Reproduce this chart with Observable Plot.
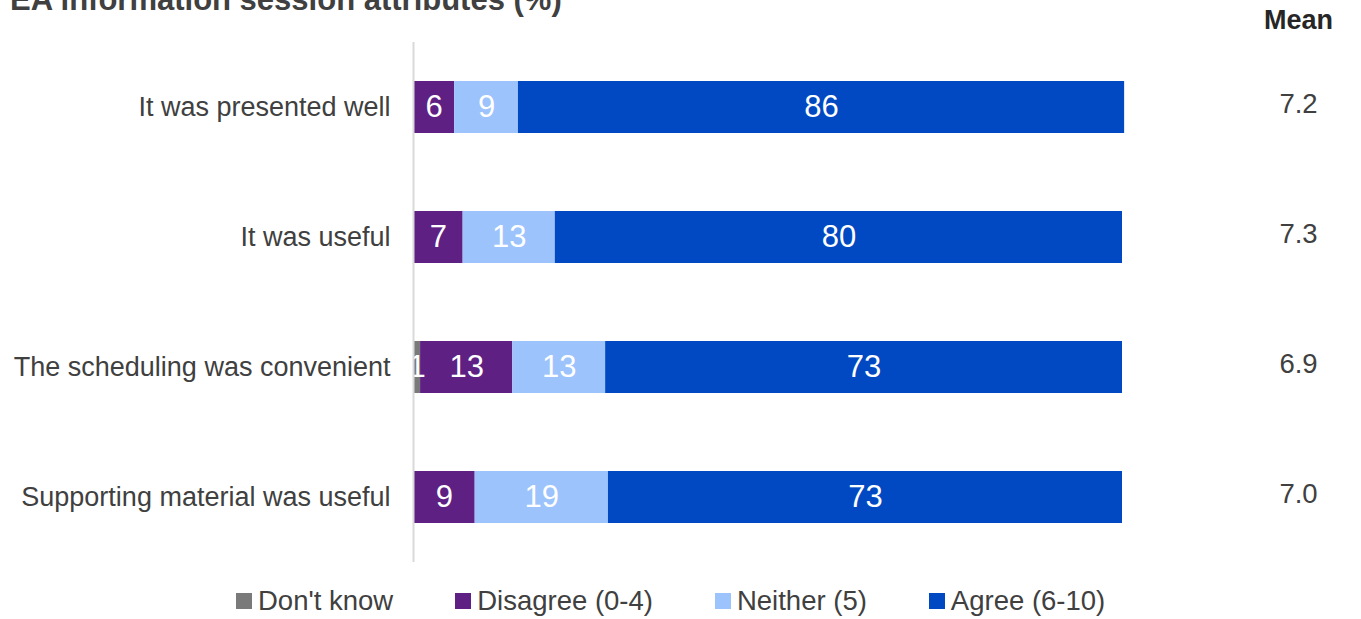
<!DOCTYPE html>
<html>
<head>
<meta charset="utf-8">
<script src="https://cdn.jsdelivr.net/npm/d3@7"></script>
<script src="https://cdn.jsdelivr.net/npm/@observablehq/plot@0.6"></script>
<style>
  html, body { margin: 0; padding: 0; background: #fff; overflow: hidden; }
  #wrap { position: relative; width: 1361px; height: 619px; font-family: "Liberation Sans", Arial, sans-serif; }
  #title { position: absolute; left: 10px; top: -16px; font-size: 31px; line-height: 31px; font-weight: bold; color: #404040; white-space: nowrap; }
  #legend { position: absolute; left: 236px; top: 585px; display: flex; align-items: center; font-size: 27.5px; color: #404040; white-space: nowrap; }
  .item { display: flex; align-items: center; margin-right: 62px; }
  .sw { width: 16px; height: 16px; margin-right: 6px; }
</style>
</head>
<body>
<div id="wrap">
  <div id="chart"></div>
  <div id="title">EA information session attributes (%)</div>
  <div id="legend"></div>
</div>
<script>
const categories = ["It was presented well", "It was useful", "The scheduling was convenient", "Supporting material was useful"];
const responses = ["Don't know", "Disagree (0-4)", "Neither (5)", "Agree (6-10)"];
const colors = ["#7a7a7a", "#5e2083", "#9dc3fd", "#0049c2"];
const dontKnow = [0, 0, 1, 0];
const disagree = [5.8, 7, 13, 8.7];
const neither = [9.0, 13, 13.1, 18.8];
const agree = [85.5, 80, 72.9, 72.5];
const means = [7.2, 7.3, 6.9, 7.0];

const series = [dontKnow, disagree, neither, agree];
const data = [];
categories.forEach((c, i) => {
  responses.forEach((r, j) => {
    const v = series[j][i];
    if (v > 0) data.push({cat: c, resp: r, value: v});
  });
});
const meanData = categories.map((c, i) => ({cat: c, mean: means[i]}));

const font = "Liberation Sans, Arial, sans-serif";
const plot = Plot.plot({
  width: 1361,
  height: 580,
  marginLeft: 413,
  marginRight: 239,
  marginTop: 42,
  marginBottom: 18,
  style: {fontFamily: font, fontSize: "27px", color: "#404040", background: "white"},
  x: {domain: [0, 100], axis: null},
  y: {domain: categories, paddingInner: 0.6, paddingOuter: 0.3, label: null},
  color: {domain: responses, range: colors},
  marks: [
    Plot.barX(data, {x: "value", y: "cat", fill: "resp", order: responses}),
    Plot.text(data, Plot.stackX({x: "value", y: "cat", z: "resp", order: responses,
      text: d => String(Math.round(d.value)), fill: "white", fontSize: 31})),
    Plot.ruleX([0], {stroke: "#d9d9d9", strokeWidth: 2}),
    Plot.axisY({tickSize: 0, tickPadding: 23, fontSize: 27, fill: "#404040", label: null}),
    Plot.text(meanData, {x: () => 100, y: "cat", text: d => d.mean.toFixed(1), dx: 176, dy: -3,
      textAnchor: "middle", fill: "#404040", fontSize: 27.5}),
    Plot.text(["Mean"], {x: () => 100, frameAnchor: "top", dx: 176, dy: -22, lineAnchor: "middle", text: d => d,
      textAnchor: "middle", fontWeight: "bold", fill: "#262626", fontSize: 27})
  ]
});
document.getElementById("chart").appendChild(plot);

const lg = document.getElementById("legend");
responses.forEach((r, i) => {
  const it = document.createElement("div");
  it.className = "item";
  const sw = document.createElement("div");
  sw.className = "sw";
  sw.style.background = colors[i];
  const t = document.createElement("span");
  t.textContent = r;
  it.appendChild(sw);
  it.appendChild(t);
  lg.appendChild(it);
});
</script>
</body>
</html>
